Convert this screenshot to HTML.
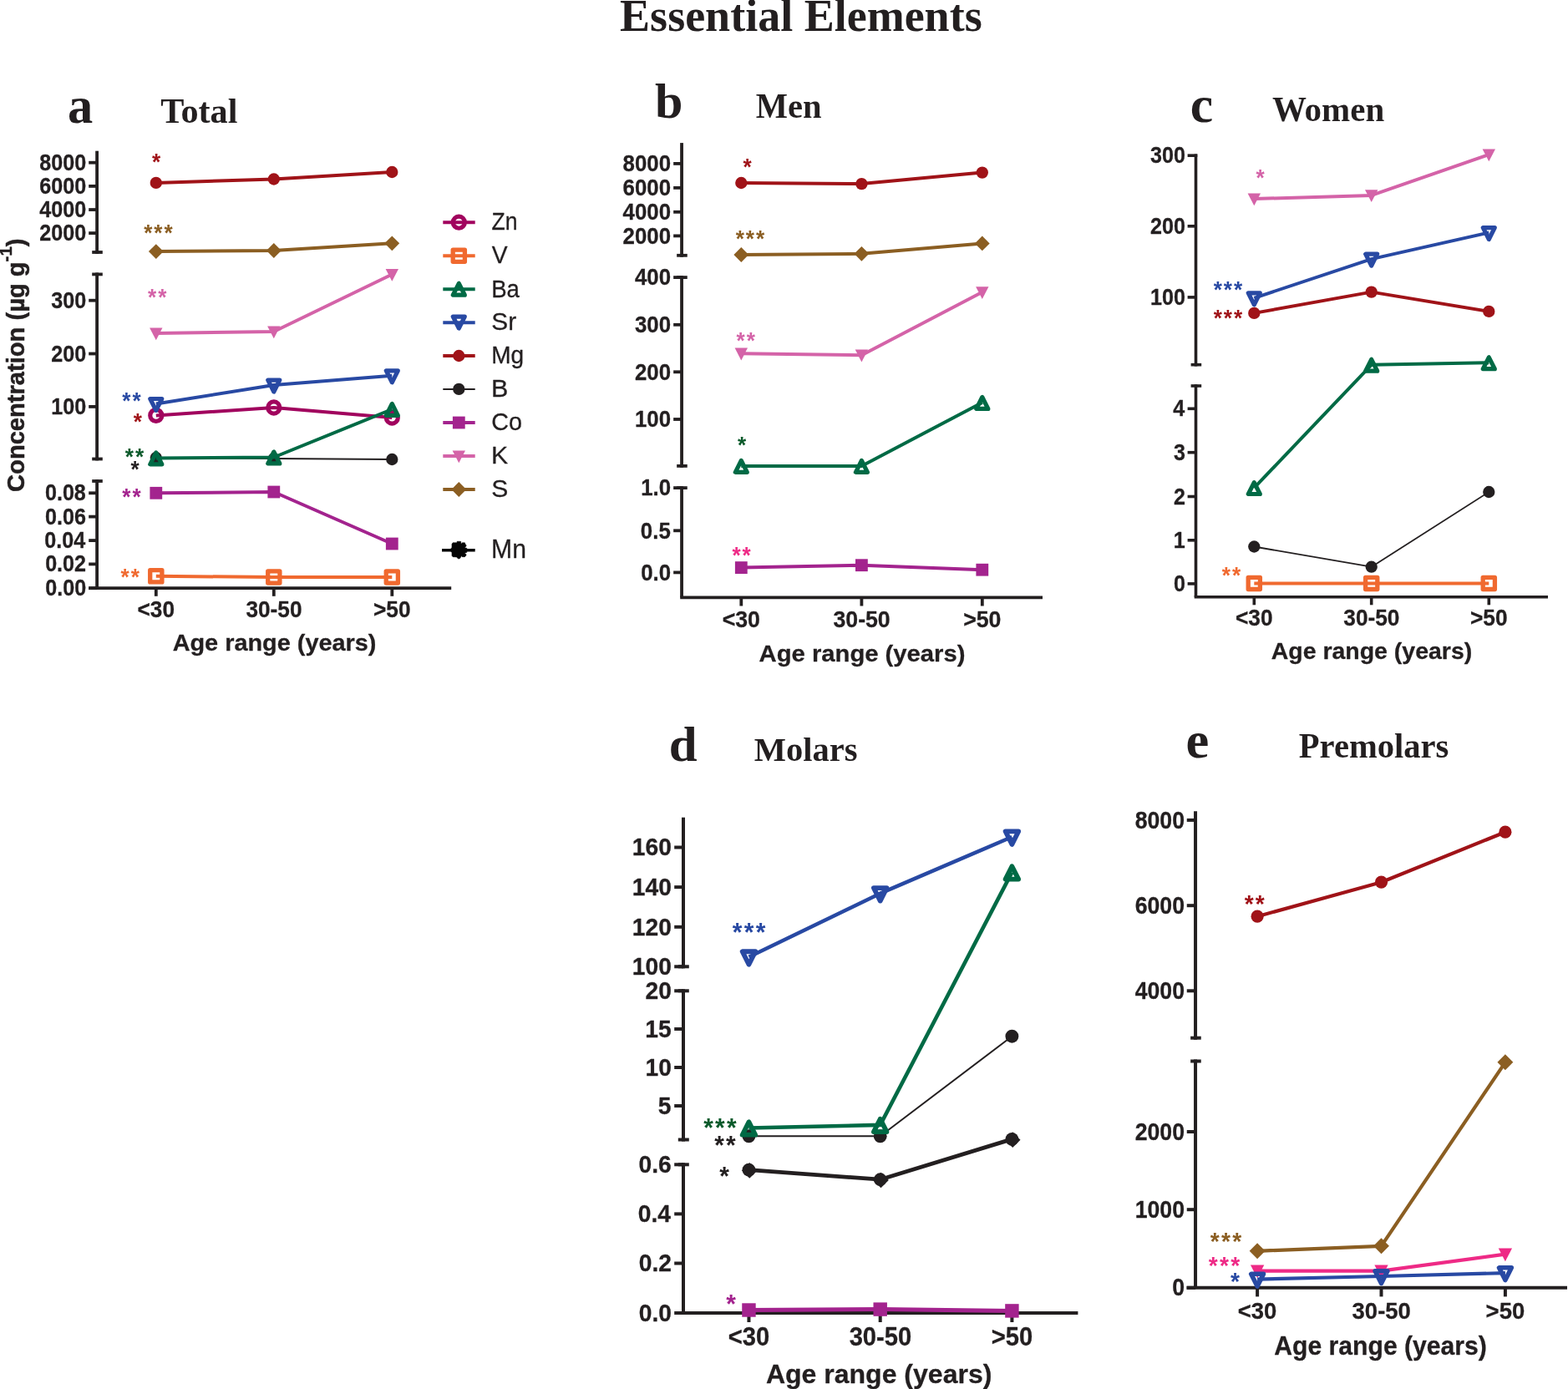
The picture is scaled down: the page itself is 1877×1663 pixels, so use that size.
<!DOCTYPE html>
<html lang="en">
<head>
<meta charset="utf-8">
<title>Essential Elements</title>
<style>
html,body{margin:0;padding:0;background:#fff;}
body{width:1877px;height:1663px;overflow:hidden;}
svg{display:block;position:absolute;left:0;top:0;}
text.s,text.sb{font-family:'Liberation Sans', sans-serif;}
text.r,text.rb{font-family:'Liberation Serif', serif;}
text.sb,text.rb{font-weight:bold;}
text.e{stroke-linejoin:round;vector-effect:non-scaling-stroke;}
</style>
</head>
<body>
<svg width="1877" height="1663" viewBox="0 0 1877 1663">
<rect width="1877" height="1663" fill="#fff"/>
<text class="rb" transform="translate(742.1,36.5) scale(1.0002,1)" font-size="54" fill="#231f20">Essential Elements</text>
<text class="rb" transform="translate(80.89,146.6) scale(0.9909,1)" font-size="61" fill="#231f20">a</text>
<text class="rb" transform="translate(192.2,146.6) scale(1.0095,1)" font-size="41.8" fill="#231f20">Total</text>
<line x1="116.1" y1="180.7" x2="116.1" y2="303.9" stroke="#231f20" stroke-width="3.8"/>
<line x1="110.2" y1="302" x2="122.8" y2="302" stroke="#231f20" stroke-width="3.8"/>
<line x1="106.2" y1="194.7" x2="116.1" y2="194.7" stroke="#231f20" stroke-width="3.8"/>
<text class="sb e" transform="translate(47.21,203.78) scale(0.9037,1)" font-size="27.84" fill="#231f20" stroke="#231f20" stroke-width="0.3">8000</text>
<line x1="106.2" y1="222.9" x2="116.1" y2="222.9" stroke="#231f20" stroke-width="3.8"/>
<text class="sb e" transform="translate(47.21,231.98) scale(0.9037,1)" font-size="27.84" fill="#231f20" stroke="#231f20" stroke-width="0.3">6000</text>
<line x1="106.2" y1="251.05" x2="116.1" y2="251.05" stroke="#231f20" stroke-width="3.8"/>
<text class="sb e" transform="translate(47.21,260.13) scale(0.9037,1)" font-size="27.84" fill="#231f20" stroke="#231f20" stroke-width="0.3">4000</text>
<line x1="106.2" y1="279.1" x2="116.1" y2="279.1" stroke="#231f20" stroke-width="3.8"/>
<text class="sb e" transform="translate(47.21,288.18) scale(0.9037,1)" font-size="27.84" fill="#231f20" stroke="#231f20" stroke-width="0.3">2000</text>
<line x1="116.1" y1="326.5" x2="116.1" y2="551.4" stroke="#231f20" stroke-width="3.8"/>
<line x1="110.2" y1="328.4" x2="122.8" y2="328.4" stroke="#231f20" stroke-width="3.8"/>
<line x1="110.2" y1="549.5" x2="122.8" y2="549.5" stroke="#231f20" stroke-width="3.8"/>
<line x1="106.2" y1="359.7" x2="116.1" y2="359.7" stroke="#231f20" stroke-width="3.8"/>
<text class="sb e" transform="translate(61.16,368.78) scale(0.9037,1)" font-size="27.84" fill="#231f20" stroke="#231f20" stroke-width="0.3">300</text>
<line x1="106.2" y1="423.5" x2="116.1" y2="423.5" stroke="#231f20" stroke-width="3.8"/>
<text class="sb e" transform="translate(61.16,432.58) scale(0.9037,1)" font-size="27.84" fill="#231f20" stroke="#231f20" stroke-width="0.3">200</text>
<line x1="106.2" y1="486.9" x2="116.1" y2="486.9" stroke="#231f20" stroke-width="3.8"/>
<text class="sb e" transform="translate(61.16,495.98) scale(0.9037,1)" font-size="27.84" fill="#231f20" stroke="#231f20" stroke-width="0.3">100</text>
<line x1="116.1" y1="574.1" x2="116.1" y2="704.2" stroke="#231f20" stroke-width="3.8"/>
<line x1="110.2" y1="576" x2="122.8" y2="576" stroke="#231f20" stroke-width="3.8"/>
<line x1="106.2" y1="590.3" x2="116.1" y2="590.3" stroke="#231f20" stroke-width="3.8"/>
<text class="sb e" transform="translate(53.92,599.38) scale(0.9037,1)" font-size="27.84" fill="#231f20" stroke="#231f20" stroke-width="0.3">0.08</text>
<line x1="106.2" y1="618.6" x2="116.1" y2="618.6" stroke="#231f20" stroke-width="3.8"/>
<text class="sb e" transform="translate(54.03,627.68) scale(0.9037,1)" font-size="27.84" fill="#231f20" stroke="#231f20" stroke-width="0.3">0.06</text>
<line x1="106.2" y1="647.1" x2="116.1" y2="647.1" stroke="#231f20" stroke-width="3.8"/>
<text class="sb e" transform="translate(53.29,656.18) scale(0.9037,1)" font-size="27.84" fill="#231f20" stroke="#231f20" stroke-width="0.3">0.04</text>
<line x1="106.2" y1="675.4" x2="116.1" y2="675.4" stroke="#231f20" stroke-width="3.8"/>
<text class="sb e" transform="translate(54.13,684.48) scale(0.9037,1)" font-size="27.84" fill="#231f20" stroke="#231f20" stroke-width="0.3">0.02</text>
<line x1="106.2" y1="704.2" x2="116.1" y2="704.2" stroke="#231f20" stroke-width="3.8"/>
<text class="sb e" transform="translate(54.24,713.28) scale(0.9037,1)" font-size="27.84" fill="#231f20" stroke="#231f20" stroke-width="0.3">0.00</text>
<line x1="106.2" y1="704.2" x2="540.2" y2="704.2" stroke="#231f20" stroke-width="3.8"/>
<line x1="186.8" y1="704.2" x2="186.8" y2="713.8" stroke="#231f20" stroke-width="3.8"/>
<text class="sb e" transform="translate(164.56,739.4) scale(0.9445,1)" font-size="27.77" fill="#231f20" stroke="#231f20" stroke-width="0.3">&lt;30</text>
<line x1="327.8" y1="704.2" x2="327.8" y2="713.8" stroke="#231f20" stroke-width="3.8"/>
<text class="sb e" transform="translate(294.46,739.4) scale(0.9445,1)" font-size="27.77" fill="#231f20" stroke="#231f20" stroke-width="0.3">30-50</text>
<line x1="469.3" y1="704.2" x2="469.3" y2="713.8" stroke="#231f20" stroke-width="3.8"/>
<text class="sb e" transform="translate(447.06,739.4) scale(0.9445,1)" font-size="27.77" fill="#231f20" stroke="#231f20" stroke-width="0.3">&gt;50</text>
<text class="sb e" transform="translate(206.63,778.7) scale(1.0256,1)" font-size="28.15" fill="#231f20" stroke="#231f20" stroke-width="0.3">Age range (years)</text>
<text class="sb e" font-size="30" fill="#231f20" stroke="#231f20" stroke-width="0.5" transform="translate(28.9,588.9) rotate(-90) scale(0.971,1)">Concentration (µg g<tspan dy="-15.4" font-size="21">-1</tspan><tspan dy="15.4">)</tspan></text>
<polyline fill="none" stroke="#231f20" stroke-width="1.8" stroke-linejoin="round" points="186.8,548 327.8,549 469.3,550"/>
<circle cx="186.8" cy="548" r="7.15" fill="#231f20"/>
<circle cx="327.8" cy="549" r="7.15" fill="#231f20"/>
<circle cx="469.3" cy="550" r="7.15" fill="#231f20"/>
<polyline fill="none" stroke="#a1045e" stroke-width="4" stroke-linejoin="round" points="186.8,497.4 327.8,488 469.3,500"/>
<circle cx="186.8" cy="497.4" r="7.05" fill="none" stroke="#a1045e" stroke-width="5.2"/>
<circle cx="327.8" cy="488" r="7.05" fill="none" stroke="#a1045e" stroke-width="5.2"/>
<circle cx="469.3" cy="500" r="7.05" fill="none" stroke="#a1045e" stroke-width="5.2"/>
<polyline fill="none" stroke="#006a45" stroke-width="4" stroke-linejoin="round" points="186.8,548.4 327.8,547.5 469.3,490"/>
<polygon points="179.8,555.8 193.8,555.8 186.8,541.9" fill="none" stroke="#006a45" stroke-width="5.2" stroke-linejoin="round"/>
<polygon points="320.8,554.9 334.8,554.9 327.8,541" fill="none" stroke="#006a45" stroke-width="5.2" stroke-linejoin="round"/>
<polygon points="462.3,497.4 476.3,497.4 469.3,483.5" fill="none" stroke="#006a45" stroke-width="5.2" stroke-linejoin="round"/>
<polyline fill="none" stroke="#2849a3" stroke-width="4" stroke-linejoin="round" points="186.8,483.4 327.8,461 469.3,449.8"/>
<polygon points="179.8,477.5 193.8,477.5 186.8,491.4" fill="none" stroke="#2849a3" stroke-width="5.2" stroke-linejoin="round"/>
<polygon points="320.8,455.1 334.8,455.1 327.8,469" fill="none" stroke="#2849a3" stroke-width="5.2" stroke-linejoin="round"/>
<polygon points="462.3,443.9 476.3,443.9 469.3,457.8" fill="none" stroke="#2849a3" stroke-width="5.2" stroke-linejoin="round"/>
<polyline fill="none" stroke="#a01318" stroke-width="4" stroke-linejoin="round" points="186.8,218.9 327.8,214.5 469.3,206"/>
<circle cx="186.8" cy="218.9" r="7.15" fill="#a01318"/>
<circle cx="327.8" cy="214.5" r="7.15" fill="#a01318"/>
<circle cx="469.3" cy="206" r="7.15" fill="#a01318"/>
<polyline fill="none" stroke="#8b5e22" stroke-width="4" stroke-linejoin="round" points="186.8,301.1 327.8,300 469.3,291.3"/>
<polygon points="186.8,292.2 195.7,301.1 186.8,310 177.9,301.1" fill="#8b5e22"/>
<polygon points="327.8,291.1 336.7,300 327.8,308.9 318.9,300" fill="#8b5e22"/>
<polygon points="469.3,282.4 478.2,291.3 469.3,300.2 460.4,291.3" fill="#8b5e22"/>
<polyline fill="none" stroke="#d463a8" stroke-width="4" stroke-linejoin="round" points="186.8,399 327.8,397 469.3,328.5"/>
<polygon points="179.1,392.4 194.5,392.4 186.8,407.2" fill="#d463a8"/>
<polygon points="320.1,390.4 335.5,390.4 327.8,405.2" fill="#d463a8"/>
<polygon points="461.6,321.9 477,321.9 469.3,336.7" fill="#d463a8"/>
<polyline fill="none" stroke="#a3238e" stroke-width="4" stroke-linejoin="round" points="186.8,590.3 327.8,589 469.3,651"/>
<rect x="179.4" y="582.9" width="14.8" height="14.8" fill="#a3238e"/>
<rect x="320.4" y="581.6" width="14.8" height="14.8" fill="#a3238e"/>
<rect x="461.9" y="643.6" width="14.8" height="14.8" fill="#a3238e"/>
<polyline fill="none" stroke="#f0692f" stroke-width="4" stroke-linejoin="round" points="186.8,689.8 327.8,691 469.3,691"/>
<rect x="179.7" y="682.7" width="14.2" height="14.2" fill="none" stroke="#f0692f" stroke-width="5.3" stroke-linejoin="round"/>
<rect x="320.7" y="683.9" width="14.2" height="14.2" fill="none" stroke="#f0692f" stroke-width="5.3" stroke-linejoin="round"/>
<rect x="462.2" y="683.9" width="14.2" height="14.2" fill="none" stroke="#f0692f" stroke-width="5.3" stroke-linejoin="round"/>
<text class="sb" transform="translate(182.08,203.27) scale(0.947,1)" font-size="27.6" letter-spacing="2.15" fill="#a01318">*</text>
<text class="sb" transform="translate(172.17,288.27) scale(0.947,1)" font-size="27.6" letter-spacing="2.15" fill="#8b5e22">***</text>
<text class="sb" transform="translate(177.08,364.87) scale(0.947,1)" font-size="27.6" letter-spacing="2.15" fill="#d463a8">**</text>
<text class="sb" transform="translate(146.18,489.47) scale(0.947,1)" font-size="27.6" letter-spacing="2.15" fill="#2849a3">**</text>
<text class="sb" transform="translate(159.78,513.67) scale(0.947,1)" font-size="27.6" letter-spacing="2.15" fill="#a01318">*</text>
<text class="sb" transform="translate(149.68,555.87) scale(0.947,1)" font-size="27.6" letter-spacing="2.15" fill="#0b5a2b">**</text>
<text class="sb" transform="translate(156.48,570.87) scale(0.947,1)" font-size="27.6" letter-spacing="2.15" fill="#231f20">*</text>
<text class="sb" transform="translate(146.18,603.97) scale(0.947,1)" font-size="27.6" letter-spacing="2.15" fill="#a3238e">**</text>
<text class="sb" transform="translate(144.58,699.67) scale(0.947,1)" font-size="27.6" letter-spacing="2.15" fill="#f0692f">**</text>
<line x1="530.3" y1="266.2" x2="568.7" y2="266.2" stroke="#a1045e" stroke-width="4"/>
<circle cx="549.3" cy="266.2" r="7.05" fill="none" stroke="#a1045e" stroke-width="5.2"/>
<text class="s e" transform="translate(588.47,275.4) scale(0.9117,1)" font-size="29.1" fill="#231f20" stroke="#231f20" stroke-width="0.3">Zn</text>
<line x1="530.3" y1="306.2" x2="568.7" y2="306.2" stroke="#f0692f" stroke-width="4"/>
<rect x="542.2" y="299.1" width="14.2" height="14.2" fill="none" stroke="#f0692f" stroke-width="5.3" stroke-linejoin="round"/>
<text class="s e" transform="translate(588.73,315.4) scale(0.9709,1)" font-size="29.1" fill="#231f20" stroke="#231f20" stroke-width="0.3">V</text>
<line x1="530.3" y1="346.3" x2="568.7" y2="346.3" stroke="#006a45" stroke-width="4"/>
<polygon points="542.3,353.2 556.3,353.2 549.3,339.3" fill="none" stroke="#006a45" stroke-width="5.2" stroke-linejoin="round"/>
<text class="s e" transform="translate(588.26,355.5) scale(0.9456,1)" font-size="29.1" fill="#231f20" stroke="#231f20" stroke-width="0.3">Ba</text>
<line x1="530.3" y1="386.2" x2="568.7" y2="386.2" stroke="#2849a3" stroke-width="4"/>
<polygon points="542.3,379.1 556.3,379.1 549.3,393" fill="none" stroke="#2849a3" stroke-width="5.2" stroke-linejoin="round"/>
<text class="s e" transform="translate(588.28,395.4) scale(1.0263,1)" font-size="29.1" fill="#231f20" stroke="#231f20" stroke-width="0.3">Sr</text>
<line x1="530.3" y1="426" x2="568.7" y2="426" stroke="#a01318" stroke-width="4"/>
<circle cx="549.3" cy="426" r="7.15" fill="#a01318"/>
<text class="s e" transform="translate(588.21,435.2) scale(0.9631,1)" font-size="29.1" fill="#231f20" stroke="#231f20" stroke-width="0.3">Mg</text>
<line x1="530.3" y1="465.9" x2="568.7" y2="465.9" stroke="#231f20" stroke-width="2"/>
<circle cx="549.3" cy="465.9" r="7.15" fill="#231f20"/>
<text class="s e" transform="translate(588.01,475.1) scale(1.0455,1)" font-size="29.1" fill="#231f20" stroke="#231f20" stroke-width="0.3">B</text>
<line x1="530.3" y1="506" x2="568.7" y2="506" stroke="#a3238e" stroke-width="4"/>
<rect x="541.9" y="498.6" width="14.8" height="14.8" fill="#a3238e"/>
<text class="s e" transform="translate(588.21,515.2) scale(0.9868,1)" font-size="29.1" fill="#231f20" stroke="#231f20" stroke-width="0.3">Co</text>
<line x1="530.3" y1="546" x2="568.7" y2="546" stroke="#d463a8" stroke-width="4"/>
<polygon points="541.6,539.4 557,539.4 549.3,554.2" fill="#d463a8"/>
<text class="s e" transform="translate(588.04,555.2) scale(1.0354,1)" font-size="29.1" fill="#231f20" stroke="#231f20" stroke-width="0.3">K</text>
<line x1="530.3" y1="586" x2="568.7" y2="586" stroke="#8b5e22" stroke-width="4"/>
<polygon points="549.3,577.1 558.2,586 549.3,594.9 540.4,586" fill="#8b5e22"/>
<text class="s e" transform="translate(588.27,595.2) scale(1.0339,1)" font-size="29.1" fill="#231f20" stroke="#231f20" stroke-width="0.3">S</text>
<line x1="529" y1="658.8" x2="568.7" y2="658.8" stroke="#050505" stroke-width="3.6"/>
<polygon points="540.98,651.45 542.05,649.86 547.11,649.86 547.11,648.26 551.64,648.26 551.9,650.66 552.7,650.92 553.24,649.86 556.43,649.86 556.97,651.72 558.03,652.52 558.03,653.85 556.17,655.72 558.83,656.25 558.83,661.31 555.9,662.38 558.03,663.71 558.03,664.77 556.43,666.64 553.24,666.64 552.44,665.31 551.64,666.9 550.57,668.5 549.24,669.04 547.91,668.5 546.84,666.9 542.05,666.64 540.98,665.31 540.98,661.04 539.92,660.51 539.92,656.52 540.98,655.98" fill="#050505" stroke="#050505" stroke-width="0.6" stroke-linejoin="round"/>
<text class="s e" transform="translate(588.04,667.8) scale(0.9843,1)" font-size="30.6" fill="#231f20" stroke="#231f20" stroke-width="0.3">Mn</text>
<text class="rb" transform="translate(784.05,141.4) scale(1.0017,1)" font-size="60" fill="#231f20">b</text>
<text class="rb" transform="translate(904.82,141.2) scale(0.9694,1)" font-size="41.8" fill="#231f20">Men</text>
<line x1="816.05" y1="171.1" x2="816.05" y2="307.7" stroke="#231f20" stroke-width="3.8"/>
<line x1="810.15" y1="305.8" x2="822.75" y2="305.8" stroke="#231f20" stroke-width="3.8"/>
<line x1="806.15" y1="195.9" x2="816.05" y2="195.9" stroke="#231f20" stroke-width="3.8"/>
<text class="sb e" transform="translate(745.59,205.12) scale(0.9148,1)" font-size="28.27" fill="#231f20" stroke="#231f20" stroke-width="0.3">8000</text>
<line x1="806.15" y1="224.9" x2="816.05" y2="224.9" stroke="#231f20" stroke-width="3.8"/>
<text class="sb e" transform="translate(745.59,234.12) scale(0.9148,1)" font-size="28.27" fill="#231f20" stroke="#231f20" stroke-width="0.3">6000</text>
<line x1="806.15" y1="253.8" x2="816.05" y2="253.8" stroke="#231f20" stroke-width="3.8"/>
<text class="sb e" transform="translate(745.59,263.02) scale(0.9148,1)" font-size="28.27" fill="#231f20" stroke="#231f20" stroke-width="0.3">4000</text>
<line x1="806.15" y1="282.4" x2="816.05" y2="282.4" stroke="#231f20" stroke-width="3.8"/>
<text class="sb e" transform="translate(745.59,291.62) scale(0.9148,1)" font-size="28.27" fill="#231f20" stroke="#231f20" stroke-width="0.3">2000</text>
<line x1="816.05" y1="330.2" x2="816.05" y2="559.8" stroke="#231f20" stroke-width="3.8"/>
<line x1="810.15" y1="332.1" x2="822.75" y2="332.1" stroke="#231f20" stroke-width="3.8"/>
<line x1="810.15" y1="557.9" x2="822.75" y2="557.9" stroke="#231f20" stroke-width="3.8"/>
<line x1="806.15" y1="332.1" x2="816.05" y2="332.1" stroke="#231f20" stroke-width="3.8"/>
<text class="sb e" transform="translate(759.92,341.32) scale(0.9148,1)" font-size="28.27" fill="#231f20" stroke="#231f20" stroke-width="0.3">400</text>
<line x1="806.15" y1="388.8" x2="816.05" y2="388.8" stroke="#231f20" stroke-width="3.8"/>
<text class="sb e" transform="translate(759.92,398.02) scale(0.9148,1)" font-size="28.27" fill="#231f20" stroke="#231f20" stroke-width="0.3">300</text>
<line x1="806.15" y1="445.3" x2="816.05" y2="445.3" stroke="#231f20" stroke-width="3.8"/>
<text class="sb e" transform="translate(759.92,454.52) scale(0.9148,1)" font-size="28.27" fill="#231f20" stroke="#231f20" stroke-width="0.3">200</text>
<line x1="806.15" y1="502" x2="816.05" y2="502" stroke="#231f20" stroke-width="3.8"/>
<text class="sb e" transform="translate(759.92,511.22) scale(0.9148,1)" font-size="28.27" fill="#231f20" stroke="#231f20" stroke-width="0.3">100</text>
<line x1="816.05" y1="582.2" x2="816.05" y2="715.3" stroke="#231f20" stroke-width="3.8"/>
<line x1="810.15" y1="584.1" x2="822.75" y2="584.1" stroke="#231f20" stroke-width="3.8"/>
<line x1="806.15" y1="584.1" x2="816.05" y2="584.1" stroke="#231f20" stroke-width="3.8"/>
<text class="sb e" transform="translate(767.14,593.32) scale(0.9148,1)" font-size="28.27" fill="#231f20" stroke="#231f20" stroke-width="0.3">1.0</text>
<line x1="806.15" y1="635.3" x2="816.05" y2="635.3" stroke="#231f20" stroke-width="3.8"/>
<text class="sb e" transform="translate(766.82,644.52) scale(0.9148,1)" font-size="28.27" fill="#231f20" stroke="#231f20" stroke-width="0.3">0.5</text>
<line x1="806.15" y1="685.4" x2="816.05" y2="685.4" stroke="#231f20" stroke-width="3.8"/>
<text class="sb e" transform="translate(767.14,694.62) scale(0.9148,1)" font-size="28.27" fill="#231f20" stroke="#231f20" stroke-width="0.3">0.0</text>
<line x1="814.2" y1="715.3" x2="1248" y2="715.3" stroke="#231f20" stroke-width="3.8"/>
<line x1="887.3" y1="715.3" x2="887.3" y2="725.5" stroke="#231f20" stroke-width="3.8"/>
<text class="sb e" transform="translate(864.64,751) scale(0.9599,1)" font-size="27.84" fill="#231f20" stroke="#231f20" stroke-width="0.3">&lt;30</text>
<line x1="1031.4" y1="715.3" x2="1031.4" y2="725.5" stroke="#231f20" stroke-width="3.8"/>
<text class="sb e" transform="translate(997.43,751) scale(0.9599,1)" font-size="27.84" fill="#231f20" stroke="#231f20" stroke-width="0.3">30-50</text>
<line x1="1175.8" y1="715.3" x2="1175.8" y2="725.5" stroke="#231f20" stroke-width="3.8"/>
<text class="sb e" transform="translate(1153.14,751) scale(0.9599,1)" font-size="27.84" fill="#231f20" stroke="#231f20" stroke-width="0.3">&gt;50</text>
<text class="sb e" transform="translate(908.62,791.8) scale(1.0332,1)" font-size="28.29" fill="#231f20" stroke="#231f20" stroke-width="0.3">Age range (years)</text>
<polyline fill="none" stroke="#a01318" stroke-width="4" stroke-linejoin="round" points="887.3,219 1031.4,220.1 1175.8,206.6"/>
<circle cx="887.3" cy="219" r="7.15" fill="#a01318"/>
<circle cx="1031.4" cy="220.1" r="7.15" fill="#a01318"/>
<circle cx="1175.8" cy="206.6" r="7.15" fill="#a01318"/>
<polyline fill="none" stroke="#8b5e22" stroke-width="4" stroke-linejoin="round" points="887.3,305 1031.4,303.8 1175.8,291.4"/>
<polygon points="887.3,296.1 896.2,305 887.3,313.9 878.4,305" fill="#8b5e22"/>
<polygon points="1031.4,294.9 1040.3,303.8 1031.4,312.7 1022.5,303.8" fill="#8b5e22"/>
<polygon points="1175.8,282.5 1184.7,291.4 1175.8,300.3 1166.9,291.4" fill="#8b5e22"/>
<polyline fill="none" stroke="#d463a8" stroke-width="4" stroke-linejoin="round" points="887.3,423.2 1031.4,425.2 1175.8,349.8"/>
<polygon points="879.6,416.6 895,416.6 887.3,431.4" fill="#d463a8"/>
<polygon points="1023.7,418.6 1039.1,418.6 1031.4,433.4" fill="#d463a8"/>
<polygon points="1168.1,343.2 1183.5,343.2 1175.8,358" fill="#d463a8"/>
<polyline fill="none" stroke="#006a45" stroke-width="4" stroke-linejoin="round" points="887.3,557.9 1031.4,557.9 1175.8,482"/>
<polygon points="880.3,565.3 894.3,565.3 887.3,551.4" fill="none" stroke="#006a45" stroke-width="5.2" stroke-linejoin="round"/>
<polygon points="1024.4,565.3 1038.4,565.3 1031.4,551.4" fill="none" stroke="#006a45" stroke-width="5.2" stroke-linejoin="round"/>
<polygon points="1168.8,489.4 1182.8,489.4 1175.8,475.5" fill="none" stroke="#006a45" stroke-width="5.2" stroke-linejoin="round"/>
<polyline fill="none" stroke="#a3238e" stroke-width="4" stroke-linejoin="round" points="887.3,679.6 1031.4,676.7 1175.8,682.2"/>
<rect x="879.9" y="672.2" width="14.8" height="14.8" fill="#a3238e"/>
<rect x="1024" y="669.3" width="14.8" height="14.8" fill="#a3238e"/>
<rect x="1168.4" y="674.8" width="14.8" height="14.8" fill="#a3238e"/>
<text class="sb" transform="translate(889.38,208.87) scale(0.947,1)" font-size="27.6" letter-spacing="2.15" fill="#a01318">*</text>
<text class="sb" transform="translate(880.67,294.87) scale(0.947,1)" font-size="27.6" letter-spacing="2.15" fill="#8b5e22">***</text>
<text class="sb" transform="translate(881.58,417.47) scale(0.947,1)" font-size="27.6" letter-spacing="2.15" fill="#d463a8">**</text>
<text class="sb" transform="translate(882.88,542.17) scale(0.947,1)" font-size="27.6" letter-spacing="2.15" fill="#0b5a2b">*</text>
<text class="sb" transform="translate(876.38,673.87) scale(0.947,1)" font-size="27.6" letter-spacing="2.15" fill="#ee2a86">**</text>
<text class="rb" transform="translate(1424.74,145.6) scale(1.0111,1)" font-size="61" fill="#231f20">c</text>
<text class="rb" transform="translate(1522.89,145.4) scale(0.9812,1)" font-size="41.8" fill="#231f20">Women</text>
<line x1="1431.5" y1="184.4" x2="1431.5" y2="438.5" stroke="#231f20" stroke-width="3.6"/>
<line x1="1425.6" y1="436.7" x2="1438.2" y2="436.7" stroke="#231f20" stroke-width="3.6"/>
<line x1="1421.6" y1="186.2" x2="1433.3" y2="186.2" stroke="#231f20" stroke-width="3.6"/>
<text class="sb e" transform="translate(1377.12,195.23) scale(0.9068,1)" font-size="27.7" fill="#231f20" stroke="#231f20" stroke-width="0.3">300</text>
<line x1="1421.6" y1="270.8" x2="1431.5" y2="270.8" stroke="#231f20" stroke-width="3.6"/>
<text class="sb e" transform="translate(1377.12,279.83) scale(0.9068,1)" font-size="27.7" fill="#231f20" stroke="#231f20" stroke-width="0.3">200</text>
<line x1="1421.6" y1="355.9" x2="1431.5" y2="355.9" stroke="#231f20" stroke-width="3.6"/>
<text class="sb e" transform="translate(1377.12,364.93) scale(0.9068,1)" font-size="27.7" fill="#231f20" stroke="#231f20" stroke-width="0.3">100</text>
<line x1="1431.5" y1="460.2" x2="1431.5" y2="714.7" stroke="#231f20" stroke-width="3.6"/>
<line x1="1425.6" y1="462" x2="1438.2" y2="462" stroke="#231f20" stroke-width="3.6"/>
<line x1="1421.6" y1="489.3" x2="1431.5" y2="489.3" stroke="#231f20" stroke-width="3.6"/>
<text class="sb e" transform="translate(1404.23,498.33) scale(0.9068,1)" font-size="27.7" fill="#231f20" stroke="#231f20" stroke-width="0.3">4</text>
<line x1="1421.6" y1="541.7" x2="1431.5" y2="541.7" stroke="#231f20" stroke-width="3.6"/>
<text class="sb e" transform="translate(1404.97,550.73) scale(0.9068,1)" font-size="27.7" fill="#231f20" stroke="#231f20" stroke-width="0.3">3</text>
<line x1="1421.6" y1="594.5" x2="1431.5" y2="594.5" stroke="#231f20" stroke-width="3.6"/>
<text class="sb e" transform="translate(1405.07,603.53) scale(0.9068,1)" font-size="27.7" fill="#231f20" stroke="#231f20" stroke-width="0.3">2</text>
<line x1="1421.6" y1="646.8" x2="1431.5" y2="646.8" stroke="#231f20" stroke-width="3.6"/>
<text class="sb e" transform="translate(1404.76,655.83) scale(0.9068,1)" font-size="27.7" fill="#231f20" stroke="#231f20" stroke-width="0.3">1</text>
<line x1="1421.6" y1="698.9" x2="1431.5" y2="698.9" stroke="#231f20" stroke-width="3.6"/>
<text class="sb e" transform="translate(1405.07,707.93) scale(0.9068,1)" font-size="27.7" fill="#231f20" stroke="#231f20" stroke-width="0.3">0</text>
<line x1="1429.7" y1="714.7" x2="1853" y2="714.7" stroke="#231f20" stroke-width="3.6"/>
<line x1="1501.3" y1="714.7" x2="1501.3" y2="724.3" stroke="#231f20" stroke-width="3.6"/>
<text class="sb e" transform="translate(1479,749.4) scale(0.9443,1)" font-size="27.84" fill="#231f20" stroke="#231f20" stroke-width="0.3">&lt;30</text>
<line x1="1641.7" y1="714.7" x2="1641.7" y2="724.3" stroke="#231f20" stroke-width="3.6"/>
<text class="sb e" transform="translate(1608.28,749.4) scale(0.9443,1)" font-size="27.84" fill="#231f20" stroke="#231f20" stroke-width="0.3">30-50</text>
<line x1="1782.3" y1="714.7" x2="1782.3" y2="724.3" stroke="#231f20" stroke-width="3.6"/>
<text class="sb e" transform="translate(1760,749.4) scale(0.9443,1)" font-size="27.84" fill="#231f20" stroke="#231f20" stroke-width="0.3">&gt;50</text>
<text class="sb e" transform="translate(1521.74,789.1) scale(1.012,1)" font-size="28.15" fill="#231f20" stroke="#231f20" stroke-width="0.3">Age range (years)</text>
<polyline fill="none" stroke="#231f20" stroke-width="1.8" stroke-linejoin="round" points="1501.3,654.5 1641.7,678.7 1782.3,589"/>
<circle cx="1501.3" cy="654.5" r="7.15" fill="#231f20"/>
<circle cx="1641.7" cy="678.7" r="7.15" fill="#231f20"/>
<circle cx="1782.3" cy="589" r="7.15" fill="#231f20"/>
<polyline fill="none" stroke="#d463a8" stroke-width="4" stroke-linejoin="round" points="1501.3,238.1 1641.7,233.9 1782.3,185"/>
<polygon points="1493.6,231.5 1509,231.5 1501.3,246.3" fill="#d463a8"/>
<polygon points="1634,227.3 1649.4,227.3 1641.7,242.1" fill="#d463a8"/>
<polygon points="1774.6,178.4 1790,178.4 1782.3,193.2" fill="#d463a8"/>
<polyline fill="none" stroke="#2849a3" stroke-width="4" stroke-linejoin="round" points="1501.3,356.8 1641.7,310.1 1782.3,278.5"/>
<polygon points="1494.3,350.9 1508.3,350.9 1501.3,364.8" fill="none" stroke="#2849a3" stroke-width="5.2" stroke-linejoin="round"/>
<polygon points="1634.7,304.2 1648.7,304.2 1641.7,318.1" fill="none" stroke="#2849a3" stroke-width="5.2" stroke-linejoin="round"/>
<polygon points="1775.3,272.6 1789.3,272.6 1782.3,286.5" fill="none" stroke="#2849a3" stroke-width="5.2" stroke-linejoin="round"/>
<polyline fill="none" stroke="#a01318" stroke-width="4" stroke-linejoin="round" points="1501.3,374.9 1641.7,349.6 1782.3,372.9"/>
<circle cx="1501.3" cy="374.9" r="7.15" fill="#a01318"/>
<circle cx="1641.7" cy="349.6" r="7.15" fill="#a01318"/>
<circle cx="1782.3" cy="372.9" r="7.15" fill="#a01318"/>
<polyline fill="none" stroke="#006a45" stroke-width="4" stroke-linejoin="round" points="1501.3,584.1 1641.7,436.8 1782.3,434.3"/>
<polygon points="1494.3,591.5 1508.3,591.5 1501.3,577.6" fill="none" stroke="#006a45" stroke-width="5.2" stroke-linejoin="round"/>
<polygon points="1634.7,444.2 1648.7,444.2 1641.7,430.3" fill="none" stroke="#006a45" stroke-width="5.2" stroke-linejoin="round"/>
<polygon points="1775.3,441.7 1789.3,441.7 1782.3,427.8" fill="none" stroke="#006a45" stroke-width="5.2" stroke-linejoin="round"/>
<polyline fill="none" stroke="#f0692f" stroke-width="4" stroke-linejoin="round" points="1501.3,698.4 1641.7,698.4 1782.3,698.4"/>
<rect x="1494.2" y="691.3" width="14.2" height="14.2" fill="none" stroke="#f0692f" stroke-width="5.3" stroke-linejoin="round"/>
<rect x="1634.6" y="691.3" width="14.2" height="14.2" fill="none" stroke="#f0692f" stroke-width="5.3" stroke-linejoin="round"/>
<rect x="1775.2" y="691.3" width="14.2" height="14.2" fill="none" stroke="#f0692f" stroke-width="5.3" stroke-linejoin="round"/>
<text class="sb" transform="translate(1503.38,221.87) scale(0.947,1)" font-size="27.6" letter-spacing="2.15" fill="#d463a8">*</text>
<text class="sb" transform="translate(1452.67,356.27) scale(0.947,1)" font-size="27.6" letter-spacing="2.15" fill="#2849a3">***</text>
<text class="sb" transform="translate(1452.67,390.27) scale(0.947,1)" font-size="27.6" letter-spacing="2.15" fill="#a01318">***</text>
<text class="sb" transform="translate(1462.78,698.07) scale(0.947,1)" font-size="27.6" letter-spacing="2.15" fill="#f0692f">**</text>
<text class="rb" transform="translate(800.76,911) scale(1.0321,1)" font-size="59" fill="#231f20">d</text>
<text class="rb" transform="translate(902.83,911) scale(1.0074,1)" font-size="40.2" fill="#231f20">Molars</text>
<line x1="818" y1="978.7" x2="818" y2="1159.3" stroke="#231f20" stroke-width="4"/>
<line x1="811.8" y1="1157.3" x2="824.8" y2="1157.3" stroke="#231f20" stroke-width="4"/>
<line x1="807.2" y1="1014.5" x2="818" y2="1014.5" stroke="#231f20" stroke-width="4"/>
<text class="sb e" transform="translate(756.84,1024.38) scale(0.9349,1)" font-size="30.18" fill="#231f20" stroke="#231f20" stroke-width="0.3">160</text>
<line x1="807.2" y1="1062.1" x2="818" y2="1062.1" stroke="#231f20" stroke-width="4"/>
<text class="sb e" transform="translate(756.84,1071.98) scale(0.9349,1)" font-size="30.18" fill="#231f20" stroke="#231f20" stroke-width="0.3">140</text>
<line x1="807.2" y1="1109.8" x2="818" y2="1109.8" stroke="#231f20" stroke-width="4"/>
<text class="sb e" transform="translate(756.84,1119.68) scale(0.9349,1)" font-size="30.18" fill="#231f20" stroke="#231f20" stroke-width="0.3">120</text>
<line x1="807.2" y1="1157.3" x2="818" y2="1157.3" stroke="#231f20" stroke-width="4"/>
<text class="sb e" transform="translate(756.84,1167.18) scale(0.9349,1)" font-size="30.18" fill="#231f20" stroke="#231f20" stroke-width="0.3">100</text>
<line x1="818" y1="1184.3" x2="818" y2="1366.5" stroke="#231f20" stroke-width="4"/>
<line x1="811.8" y1="1186.3" x2="824.8" y2="1186.3" stroke="#231f20" stroke-width="4"/>
<line x1="811.8" y1="1364.5" x2="824.8" y2="1364.5" stroke="#231f20" stroke-width="4"/>
<line x1="807.2" y1="1186.3" x2="818" y2="1186.3" stroke="#231f20" stroke-width="4"/>
<text class="sb e" transform="translate(772.59,1196.18) scale(0.9349,1)" font-size="30.18" fill="#231f20" stroke="#231f20" stroke-width="0.3">20</text>
<line x1="807.2" y1="1232" x2="818" y2="1232" stroke="#231f20" stroke-width="4"/>
<text class="sb e" transform="translate(772.24,1241.88) scale(0.9349,1)" font-size="30.18" fill="#231f20" stroke="#231f20" stroke-width="0.3">15</text>
<line x1="807.2" y1="1278" x2="818" y2="1278" stroke="#231f20" stroke-width="4"/>
<text class="sb e" transform="translate(772.59,1287.88) scale(0.9349,1)" font-size="30.18" fill="#231f20" stroke="#231f20" stroke-width="0.3">10</text>
<line x1="807.2" y1="1324" x2="818" y2="1324" stroke="#231f20" stroke-width="4"/>
<text class="sb e" transform="translate(787.87,1333.88) scale(0.9349,1)" font-size="30.18" fill="#231f20" stroke="#231f20" stroke-width="0.3">5</text>
<line x1="818" y1="1392.3" x2="818" y2="1572" stroke="#231f20" stroke-width="4"/>
<line x1="811.8" y1="1394.3" x2="824.8" y2="1394.3" stroke="#231f20" stroke-width="4"/>
<line x1="807.2" y1="1394.3" x2="818" y2="1394.3" stroke="#231f20" stroke-width="4"/>
<text class="sb e" transform="translate(764.6,1404.18) scale(0.9349,1)" font-size="30.18" fill="#231f20" stroke="#231f20" stroke-width="0.3">0.6</text>
<line x1="807.2" y1="1453.4" x2="818" y2="1453.4" stroke="#231f20" stroke-width="4"/>
<text class="sb e" transform="translate(763.77,1463.28) scale(0.9349,1)" font-size="30.18" fill="#231f20" stroke="#231f20" stroke-width="0.3">0.4</text>
<line x1="807.2" y1="1512.5" x2="818" y2="1512.5" stroke="#231f20" stroke-width="4"/>
<text class="sb e" transform="translate(764.71,1522.38) scale(0.9349,1)" font-size="30.18" fill="#231f20" stroke="#231f20" stroke-width="0.3">0.2</text>
<line x1="807.2" y1="1572" x2="818" y2="1572" stroke="#231f20" stroke-width="4"/>
<text class="sb e" transform="translate(764.71,1581.88) scale(0.9349,1)" font-size="30.18" fill="#231f20" stroke="#231f20" stroke-width="0.3">0.0</text>
<line x1="808" y1="1572" x2="1290.4" y2="1572" stroke="#231f20" stroke-width="4"/>
<line x1="896.45" y1="1572" x2="896.45" y2="1583" stroke="#231f20" stroke-width="4"/>
<text class="sb e" transform="translate(871.74,1611.2) scale(0.9547,1)" font-size="30.53" fill="#231f20" stroke="#231f20" stroke-width="0.3">&lt;30</text>
<line x1="1053.7" y1="1572" x2="1053.7" y2="1583" stroke="#231f20" stroke-width="4"/>
<text class="sb e" transform="translate(1016.66,1611.2) scale(0.9547,1)" font-size="30.53" fill="#231f20" stroke="#231f20" stroke-width="0.3">30-50</text>
<line x1="1211.4" y1="1572" x2="1211.4" y2="1583" stroke="#231f20" stroke-width="4"/>
<text class="sb e" transform="translate(1186.69,1611.2) scale(0.9547,1)" font-size="30.53" fill="#231f20" stroke="#231f20" stroke-width="0.3">&gt;50</text>
<text class="sb e" transform="translate(916.9,1655.9) scale(1.0402,1)" font-size="30.8" fill="#231f20" stroke="#231f20" stroke-width="0.3">Age range (years)</text>
<polyline fill="none" stroke="#231f20" stroke-width="2" stroke-linejoin="round" points="896.45,1360.3 1053.7,1360.3 1211.4,1240.7"/>
<circle cx="896.45" cy="1360.3" r="7.94" fill="#231f20"/>
<circle cx="1053.7" cy="1360.3" r="7.94" fill="#231f20"/>
<circle cx="1211.4" cy="1240.7" r="7.94" fill="#231f20"/>
<polyline fill="none" stroke="#2849a3" stroke-width="4.6" stroke-linejoin="round" points="896.45,1145.8 1053.7,1069.7 1211.4,1002"/>
<polygon points="888.68,1139.25 904.22,1139.25 896.45,1154.68" fill="none" stroke="#2849a3" stroke-width="5.77" stroke-linejoin="round"/>
<polygon points="1045.93,1063.15 1061.47,1063.15 1053.7,1078.58" fill="none" stroke="#2849a3" stroke-width="5.77" stroke-linejoin="round"/>
<polygon points="1203.63,995.45 1219.17,995.45 1211.4,1010.88" fill="none" stroke="#2849a3" stroke-width="5.77" stroke-linejoin="round"/>
<polyline fill="none" stroke="#006a45" stroke-width="4.6" stroke-linejoin="round" points="896.45,1350.5 1053.7,1346.9 1211.4,1044.4"/>
<polygon points="888.68,1358.71 904.22,1358.71 896.45,1343.29" fill="none" stroke="#006a45" stroke-width="5.77" stroke-linejoin="round"/>
<polygon points="1045.93,1355.11 1061.47,1355.11 1053.7,1339.69" fill="none" stroke="#006a45" stroke-width="5.77" stroke-linejoin="round"/>
<polygon points="1203.63,1052.61 1219.17,1052.61 1211.4,1037.19" fill="none" stroke="#006a45" stroke-width="5.77" stroke-linejoin="round"/>
<polyline fill="none" stroke="#231f20" stroke-width="4.8" stroke-linejoin="round" points="896.45,1400.6 1053.7,1412.2 1211.4,1363.9"/>
<circle cx="896.45" cy="1400.6" r="7.88" fill="#231f20"/>
<polygon points="897.23,1392.05 906.55,1401.38 897.23,1410.7 887.9,1401.38" fill="#231f20"/>
<circle cx="1053.7" cy="1412.2" r="7.88" fill="#231f20"/>
<polygon points="1054.48,1403.65 1063.8,1412.98 1054.48,1422.3 1045.15,1412.98" fill="#231f20"/>
<circle cx="1211.4" cy="1363.9" r="7.88" fill="#231f20"/>
<polygon points="1212.18,1355.35 1221.5,1364.68 1212.18,1374 1202.85,1364.68" fill="#231f20"/>
<polyline fill="none" stroke="#a3238e" stroke-width="5" stroke-linejoin="round" points="896.45,1568.5 1053.7,1567.6 1211.4,1569.4"/>
<rect x="888.24" y="1560.29" width="16.43" height="16.43" fill="#a3238e"/>
<rect x="1045.49" y="1559.39" width="16.43" height="16.43" fill="#a3238e"/>
<rect x="1203.19" y="1561.19" width="16.43" height="16.43" fill="#a3238e"/>
<text class="sb" transform="translate(876.75,1126.88) scale(0.947,1)" font-size="31.61" letter-spacing="2.46" fill="#2849a3">***</text>
<text class="sb" transform="translate(842.15,1360.88) scale(0.947,1)" font-size="31.61" letter-spacing="2.46" fill="#0b5a2b">***</text>
<text class="sb" transform="translate(855.14,1381.88) scale(0.947,1)" font-size="31.61" letter-spacing="2.46" fill="#231f20">**</text>
<text class="sb" transform="translate(861.14,1418.88) scale(0.947,1)" font-size="31.61" letter-spacing="2.46" fill="#231f20">*</text>
<text class="sb" transform="translate(869.14,1571.88) scale(0.947,1)" font-size="31.61" letter-spacing="2.46" fill="#a3238e">*</text>
<text class="rb" transform="translate(1419.41,907) scale(1.0264,1)" font-size="61" fill="#231f20">e</text>
<text class="rb" transform="translate(1554.82,907) scale(0.9715,1)" font-size="41.8" fill="#231f20">Premolars</text>
<line x1="1431.05" y1="971.3" x2="1431.05" y2="1244.7" stroke="#231f20" stroke-width="4"/>
<line x1="1425.15" y1="1242.7" x2="1437.75" y2="1242.7" stroke="#231f20" stroke-width="4"/>
<line x1="1420.75" y1="981.9" x2="1431.05" y2="981.9" stroke="#231f20" stroke-width="4"/>
<text class="sb e" transform="translate(1358.66,991.56) scale(0.9038,1)" font-size="29.54" fill="#231f20" stroke="#231f20" stroke-width="0.3">8000</text>
<line x1="1420.75" y1="1084.2" x2="1431.05" y2="1084.2" stroke="#231f20" stroke-width="4"/>
<text class="sb e" transform="translate(1358.66,1093.86) scale(0.9038,1)" font-size="29.54" fill="#231f20" stroke="#231f20" stroke-width="0.3">6000</text>
<line x1="1420.75" y1="1186.3" x2="1431.05" y2="1186.3" stroke="#231f20" stroke-width="4"/>
<text class="sb e" transform="translate(1358.66,1195.96) scale(0.9038,1)" font-size="29.54" fill="#231f20" stroke="#231f20" stroke-width="0.3">4000</text>
<line x1="1431.05" y1="1268.5" x2="1431.05" y2="1541.8" stroke="#231f20" stroke-width="4"/>
<line x1="1425.15" y1="1270.5" x2="1437.75" y2="1270.5" stroke="#231f20" stroke-width="4"/>
<line x1="1420.75" y1="1355" x2="1431.05" y2="1355" stroke="#231f20" stroke-width="4"/>
<text class="sb e" transform="translate(1358.66,1364.66) scale(0.9038,1)" font-size="29.54" fill="#231f20" stroke="#231f20" stroke-width="0.3">2000</text>
<line x1="1420.75" y1="1448.2" x2="1431.05" y2="1448.2" stroke="#231f20" stroke-width="4"/>
<text class="sb e" transform="translate(1358.66,1457.86) scale(0.9038,1)" font-size="29.54" fill="#231f20" stroke="#231f20" stroke-width="0.3">1000</text>
<line x1="1420.75" y1="1541.8" x2="1431.05" y2="1541.8" stroke="#231f20" stroke-width="4"/>
<text class="sb e" transform="translate(1403.16,1551.46) scale(0.9038,1)" font-size="29.54" fill="#231f20" stroke="#231f20" stroke-width="0.3">0</text>
<line x1="1420.5" y1="1541.8" x2="1876" y2="1541.8" stroke="#231f20" stroke-width="4"/>
<line x1="1505.1" y1="1541.8" x2="1505.1" y2="1552.4" stroke="#231f20" stroke-width="4"/>
<text class="sb e" transform="translate(1481.81,1579.2) scale(0.9622,1)" font-size="28.55" fill="#231f20" stroke="#231f20" stroke-width="0.3">&lt;30</text>
<line x1="1653.5" y1="1541.8" x2="1653.5" y2="1552.4" stroke="#231f20" stroke-width="4"/>
<text class="sb e" transform="translate(1618.59,1579.2) scale(0.9622,1)" font-size="28.55" fill="#231f20" stroke="#231f20" stroke-width="0.3">30-50</text>
<line x1="1801.9" y1="1541.8" x2="1801.9" y2="1552.4" stroke="#231f20" stroke-width="4"/>
<text class="sb e" transform="translate(1778.61,1579.2) scale(0.9622,1)" font-size="28.55" fill="#231f20" stroke="#231f20" stroke-width="0.3">&gt;50</text>
<text class="sb e" transform="translate(1525.25,1622.2) scale(0.9879,1)" font-size="30.52" fill="#231f20" stroke="#231f20" stroke-width="0.3">Age range (years)</text>
<polyline fill="none" stroke="#a01318" stroke-width="4.2" stroke-linejoin="round" points="1505.1,1097.2 1653.5,1056.2 1801.9,996.2"/>
<circle cx="1505.1" cy="1097.2" r="7.58" fill="#a01318"/>
<circle cx="1653.5" cy="1056.2" r="7.58" fill="#a01318"/>
<circle cx="1801.9" cy="996.2" r="7.58" fill="#a01318"/>
<polyline fill="none" stroke="#8b5e22" stroke-width="4.2" stroke-linejoin="round" points="1505.1,1497.8 1653.5,1491.8 1801.9,1271.8"/>
<polygon points="1505.1,1488.37 1514.53,1497.8 1505.1,1507.23 1495.67,1497.8" fill="#8b5e22"/>
<polygon points="1653.5,1482.37 1662.93,1491.8 1653.5,1501.23 1644.07,1491.8" fill="#8b5e22"/>
<polygon points="1801.9,1262.37 1811.33,1271.8 1801.9,1281.23 1792.47,1271.8" fill="#8b5e22"/>
<polyline fill="none" stroke="#ee2a86" stroke-width="4.2" stroke-linejoin="round" points="1505.1,1521.6 1653.5,1521.6 1801.9,1501.6"/>
<polygon points="1496.94,1514.6 1513.26,1514.6 1505.1,1530.29" fill="#ee2a86"/>
<polygon points="1645.34,1514.6 1661.66,1514.6 1653.5,1530.29" fill="#ee2a86"/>
<polygon points="1793.74,1494.6 1810.06,1494.6 1801.9,1510.29" fill="#ee2a86"/>
<polyline fill="none" stroke="#2849a3" stroke-width="4.2" stroke-linejoin="round" points="1505.1,1531.6 1653.5,1528 1801.9,1524.1"/>
<polygon points="1497.68,1525.35 1512.52,1525.35 1505.1,1540.08" fill="none" stroke="#2849a3" stroke-width="5.51" stroke-linejoin="round"/>
<polygon points="1646.08,1521.75 1660.92,1521.75 1653.5,1536.48" fill="none" stroke="#2849a3" stroke-width="5.51" stroke-linejoin="round"/>
<polygon points="1794.48,1517.85 1809.32,1517.85 1801.9,1532.58" fill="none" stroke="#2849a3" stroke-width="5.51" stroke-linejoin="round"/>
<text class="sb" transform="translate(1489.69,1091.56) scale(0.947,1)" font-size="29.77" letter-spacing="2.32" fill="#a01318">**</text>
<text class="sb" transform="translate(1448.81,1495.76) scale(0.947,1)" font-size="29.77" letter-spacing="2.32" fill="#8b5e22">***</text>
<text class="sb" transform="translate(1446.81,1525.16) scale(0.947,1)" font-size="29.77" letter-spacing="2.32" fill="#ee2a86">***</text>
<text class="sb" transform="translate(1472.88,1543.76) scale(0.947,1)" font-size="29.77" letter-spacing="2.32" fill="#2849a3">*</text>
</svg>
</body>
</html>
